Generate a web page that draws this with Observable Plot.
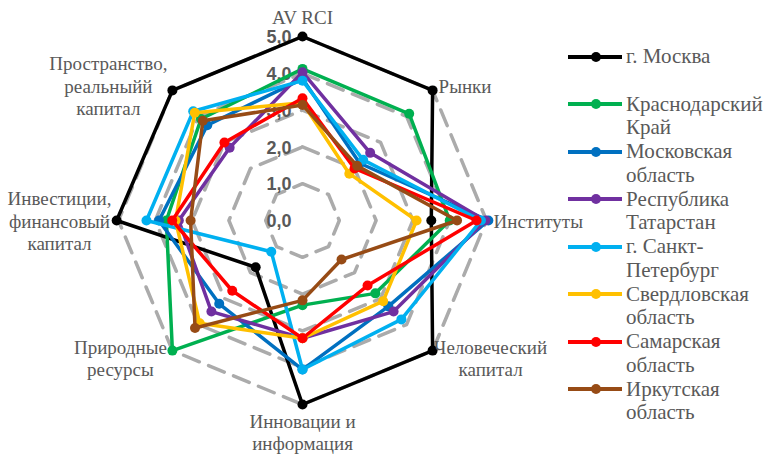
<!DOCTYPE html>
<html><head><meta charset="utf-8">
<script src="https://cdn.jsdelivr.net/npm/d3@7"></script>
<script src="https://cdn.jsdelivr.net/npm/@observablehq/plot@0.6"></script>
<style>
body{margin:0;background:#fff;}
#wrap{position:relative;width:771px;height:455px;overflow:hidden;}
#legend{position:absolute;left:568px;top:45px;font-family:"Liberation Serif","Times New Roman",serif;font-size:21px;color:#595959;}
.item{display:flex;height:47.5px;align-items:flex-start;}
.item svg{flex:none;margin-top:1.75px;}
.item span{line-height:23.5px;margin-left:4px;white-space:nowrap;}
</style></head>
<body><div id="wrap"><div id="chart"></div><div id="legend"></div></div>
<script>
// Categories (axes), clockwise from top
const categories = ["AV RCI", "Рынки", "Институты", "Человеческий\nкапитал", "Инновации и\nинформация", "Природные\nресурсы", "Инвестиции,\nфинансовый\nкапитал", "Пространство,\nреальныйй\nкапитал"];
const seriesNames = ["г. Москва", "Краснодарский\nКрай", "Московская\nобласть", "Республика\nТатарстан", "г. Санкт-\nПетербург", "Свердловская\nобласть", "Самарская\nобласть", "Иркутская\nобласть"];
const moscow      = [5.0, 5.0, 3.5, 5.0, 5.0, 1.8, 5.05, 5.0];
const krasnodar   = [4.12, 4.1, 4.0, 2.8, 2.3, 5.0, 3.7, 3.9];
const moscowObl   = [3.85, 2.2, 5.05, 3.3, 4.05, 3.2, 3.9, 3.66];
const tatarstan   = [4.03, 2.6, 4.97, 3.5, 3.2, 3.5, 3.36, 2.8];
const spb         = [3.8, 2.33, 4.85, 3.8, 4.05, 1.2, 4.24, 4.2];
const sverdlovsk  = [3.2, 1.8, 3.1, 3.1, 3.2, 3.95, 3.45, 4.14];
const samara      = [3.32, 2.0, 4.73, 2.5, 3.2, 2.7, 3.54, 3.0];
const irkutsk     = [3.14, 2.1, 4.2, 1.5, 2.17, 4.13, 3.04, 3.83];
const tickValues  = [0, 1, 2, 3, 4, 5];

const seriesValues = [moscow, krasnodar, moscowObl, tatarstan, spb, sverdlovsk, samara, irkutsk];
const colors = ["#000000", "#00B050", "#0070C0", "#7030A0", "#00B0F0", "#FFC000", "#FF0000", "#974B15"];

// layout
const W = 560, H = 455, cx = 302, cy = 220, U = 36.8;
const n = categories.length;
const ang = i => i * 2 * Math.PI / n;
const px = (i, v) => v * Math.sin(ang(i));
const py = (i, v) => v * Math.cos(ang(i));

const labelLayout = [
  {dx: 0, dy: -20, anchor: "middle"},
  {dx: 6, dy: -5, anchor: "start"},
  {dx: 7, dy: 0, anchor: "start"},
  {dx: 58, dy: 7, anchor: "middle"},
  {dx: 0, dy: 27, anchor: "middle"},
  {dx: -52, dy: 7, anchor: "middle"},
  {dx: -59, dy: 0, anchor: "middle"},
  {dx: -64, dy: -5, anchor: "middle"}
];

const grid = [];
for (const r of tickValues.slice(1)) for (let i = 0; i < n; i++) grid.push({r, x: px(i, r), y: py(i, r)});

const marks = [
  Plot.line(grid, {x: "x", y: "y", z: "r", curve: "linear-closed", stroke: "#ABABAB", strokeWidth: 3.5, strokeDasharray: "17,10"}),
  Plot.text(tickValues, {x: 0, y: d => d, text: d => d.toFixed(1).replace(".", ","), textAnchor: "end", dx: -11, dy: 1, fontWeight: "bold", fontSize: 18, fill: "#595959", fontFamily: "Liberation Sans, Arial, sans-serif"})
];
seriesValues.forEach((vals, s) => {
  const pts = vals.map((v, i) => ({x: px(i, v), y: py(i, v)}));
  marks.push(Plot.line(pts, {x: "x", y: "y", curve: "linear-closed", stroke: colors[s], strokeWidth: 3.5, strokeLinejoin: "round"}));
  marks.push(Plot.dot(pts, {x: "x", y: "y", r: 5, fill: colors[s], stroke: "none"}));
});
categories.forEach((c, i) => {
  const L = labelLayout[i];
  marks.push(Plot.text([c], {x: px(i, 5), y: py(i, 5), text: d => d, dx: L.dx, dy: L.dy, textAnchor: L.anchor, lineAnchor: "middle", lineHeight: 1.17, fontSize: 19, fill: "#595959", fontFamily: "Liberation Serif, Times New Roman, serif"}));
});

const chart = Plot.plot({
  width: W, height: H,
  marginTop: 0, marginRight: 0, marginBottom: 0, marginLeft: 0,
  x: {domain: [-cx / U, (W - cx) / U], axis: null},
  y: {domain: [-(H - cy) / U, cy / U], axis: null},
  style: {background: "white", overflow: "visible"},
  marks
});
document.getElementById("chart").appendChild(chart);

const legend = document.getElementById("legend");
seriesNames.forEach((name, s) => {
  const item = document.createElement("div");
  item.className = "item";
  item.innerHTML = `<svg width="54" height="20"><line x1="0" y1="10" x2="54" y2="10" stroke="${colors[s]}" stroke-width="4"/><circle cx="28" cy="10" r="5" fill="${colors[s]}"/></svg><span>${name.replace("\n", "<br>")}</span>`;
  legend.appendChild(item);
});
</script>
</body></html>
